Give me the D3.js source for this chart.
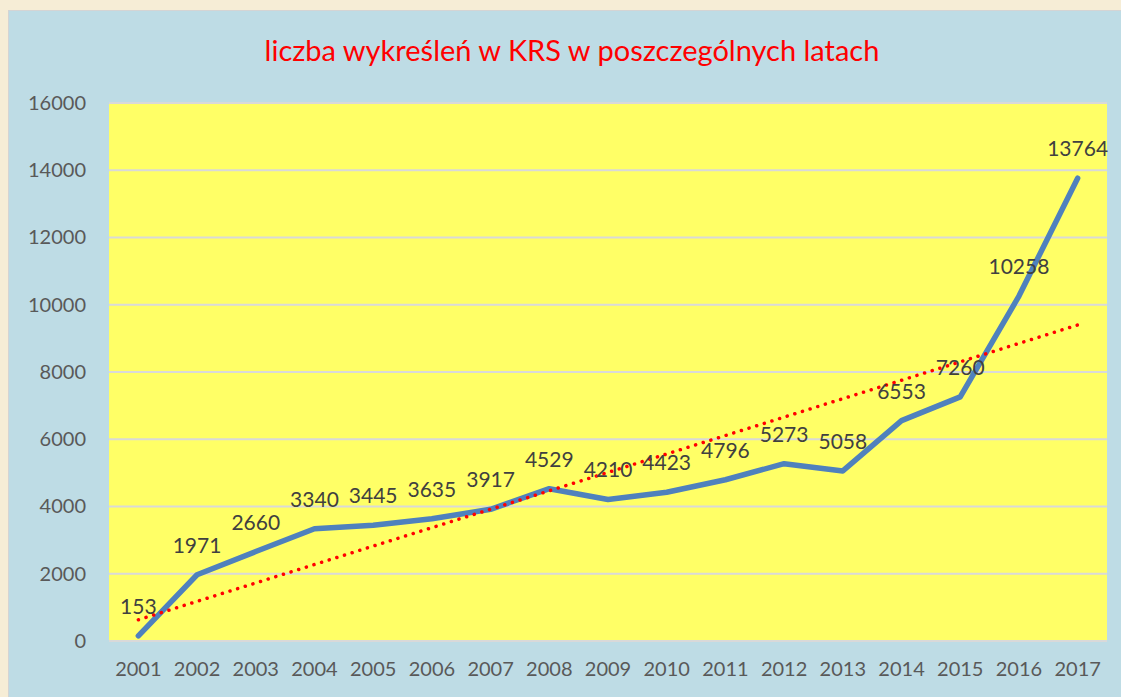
<!DOCTYPE html>
<html>
<head>
<meta charset="utf-8">
<script src="https://cdn.jsdelivr.net/npm/d3@7"></script>
<style>
  body { margin: 0; background: #f6edd6; }
  svg { display: block; font-family: Lato, "Open Sans", sans-serif; }
</style>
</head>
<body>
<div id="chart"></div>
<script>
// Data
const years = ['2001', '2002', '2003', '2004', '2005', '2006', '2007', '2008', '2009',
    '2010', '2011', '2012', '2013', '2014', '2015', '2016', '2017'];
const removals = [153, 1971, 2660, 3340, 3445, 3635, 3917, 4529, 4210,
    4423, 4796, 5273, 5058, 6553, 7260, 10258, 13764];
const yTicks = [0, 2000, 4000, 6000, 8000, 10000, 12000, 14000, 16000];
const title = 'liczba wykreśleń w KRS w poszczególnych latach';

const width = 1121, height = 697;
const margin = [103, 14, 56, 109]; // top, right, bottom, left

const svg = d3.select('#chart').append('svg')
    .attr('width', width)
    .attr('height', height);

// Background panel
svg.append('rect')
    .attr('x', 8.5).attr('y', 10.5)
    .attr('width', width).attr('height', height)
    .attr('fill', '#bedce5')
    .attr('stroke', '#d4d4d4');

svg.append('text')
    .attr('x', 572).attr('y', 61)
    .attr('text-anchor', 'middle')
    .attr('fill', '#ff0000')
    .style('font-size', '29px')
    .text(title);

const chartW = width - margin[1] - margin[3];
const chartH = height - margin[0] - margin[2];

const chart = svg.append('g')
    .attr('transform', `translate(${margin[3]}, ${margin[0]})`);

const scaleX = d3.scaleBand().domain(years).range([0, chartW]);
const scaleY = d3.scaleLinear().domain([0, 16000]).range([chartH, 0]);
const cx = d => scaleX(d) + scaleX.bandwidth() / 2;

chart.append('rect')
    .attr('width', chartW).attr('height', chartH)
    .attr('fill', '#ffff66');

// Gridlines
chart.append('g')
    .selectAll('line')
    .data(yTicks)
    .join('line')
    .attr('x1', 0).attr('x2', chartW)
    .attr('y1', d => scaleY(d)).attr('y2', d => scaleY(d))
    .attr('stroke', '#d9d9d9')
    .attr('stroke-width', 2);

// Axes
const axisY = chart.append('g')
    .call(d3.axisLeft(scaleY).tickValues(yTicks).tickSize(0).tickPadding(23).tickFormat(d3.format('d')));
const axisX = chart.append('g')
    .attr('transform', `translate(0, ${chartH})`)
    .call(d3.axisBottom(scaleX).tickSize(0).tickPadding(21));
[axisY, axisX].forEach(a => {
    a.select('.domain').remove();
    a.selectAll('text')
        .attr('fill', '#595959')
        .style('font-size', '20px')
        .style('font-family', 'Lato, "Open Sans", sans-serif');
});

// Linear trend (least squares over year index)
const idx = d3.range(years.length);
const mx = d3.mean(idx), my = d3.mean(removals);
const slope = d3.sum(idx, i => (i - mx) * (removals[i] - my)) / d3.sum(idx, i => (i - mx) ** 2);
const trend = idx.map(i => my + slope * (i - mx));

const lineGen = d3.line()
    .x((d, i) => cx(years[i]))
    .y(d => scaleY(d));

chart.append('path')
    .datum(removals)
    .attr('d', lineGen)
    .attr('fill', 'none')
    .attr('stroke', '#4f81bd')
    .attr('stroke-width', 5.5)
    .attr('stroke-linejoin', 'round')
    .attr('stroke-linecap', 'round');

chart.append('path')
    .datum([trend[0], trend[trend.length - 1]])
    .attr('d', d3.line()
        .x((d, i) => cx(years[i * (years.length - 1)]))
        .y(d => scaleY(d)))
    .attr('fill', 'none')
    .attr('stroke', '#ff0000')
    .attr('stroke-width', 3.5)
    .attr('stroke-linecap', 'round')
    .attr('stroke-dasharray', '0.1 7.9');

// Data labels
chart.append('g')
    .selectAll('text')
    .data(removals)
    .join('text')
    .attr('x', (d, i) => cx(years[i]))
    .attr('y', d => scaleY(d) - 22)
    .attr('text-anchor', 'middle')
    .attr('fill', '#404040')
    .style('font-size', '21px')
    .text(d => d);
</script>
</body>
</html>
